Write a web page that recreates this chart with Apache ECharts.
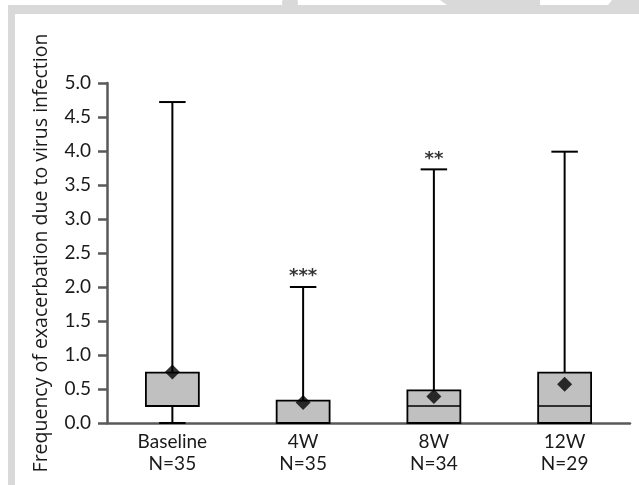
<!DOCTYPE html>
<html>
<head>
<meta charset="utf-8">
<script src="https://cdn.jsdelivr.net/npm/echarts@6/dist/echarts.min.js"></script>
<style>
html,body{margin:0;padding:0;background:#fff;}
#chart{width:639px;height:485px;}
</style>
</head>
<body>
<div id="chart"></div>
<script>
// ---- data ----
const categories = ['Baseline', '4W', '8W', '12W'];
const sampleN = [35, 35, 34, 29];
const whiskerMin = [0, 0, 0, 0];
const q1Values = [0.25, 0, 0, 0];
const medianValues = [0.25, 0, 0.25, 0.25];
const q3Values = [0.74, 0.33, 0.48, 0.74];
const whiskerMax = [4.72, 2.0, 3.73, 3.99];
const meanValues = [0.75, 0.30, 0.39, 0.57];
const significance = ['', '***', '**', ''];
const yTicks = [0, 0.5, 1.0, 1.5, 2.0, 2.5, 3.0, 3.5, 4.0, 4.5, 5.0];
const yAxisTitle = 'Frequency of exacerbation due to virus infection';

const boxData = categories.map((c, i) => [i, whiskerMin[i], q1Values[i], medianValues[i], q3Values[i], whiskerMax[i]]);
const meanData = categories.map((c, i) => [i, meanValues[i]]);
const sigData = categories.map((c, i) => ({ value: [i, whiskerMax[i]], label: { formatter: significance[i] || ' ' } }));

function renderBox(params, api) {
  const x = api.value(0);
  const lo = api.coord([x, api.value(1)]);
  const q1 = api.coord([x, api.value(2)]);
  const med = api.coord([x, api.value(3)]);
  const q3 = api.coord([x, api.value(4)]);
  const hi = api.coord([x, api.value(5)]);
  const band = api.size([1, 0])[0];
  const bw = band * 0.405;
  const cw = bw / 2;
  const cx = q1[0];
  const lineStyle = { stroke: '#000', lineWidth: 2 };
  const children = [];
  children.push({ type: 'line', shape: { x1: cx, y1: q3[1], x2: cx, y2: hi[1] }, style: lineStyle });
  children.push({ type: 'line', shape: { x1: cx - cw / 2, y1: hi[1], x2: cx + cw / 2, y2: hi[1] }, style: lineStyle });
  if (api.value(2) > api.value(1)) {
    children.push({ type: 'line', shape: { x1: cx, y1: q1[1], x2: cx, y2: lo[1] }, style: lineStyle });
    children.push({ type: 'line', shape: { x1: cx - cw / 2, y1: lo[1], x2: cx + cw / 2, y2: lo[1] }, style: lineStyle });
  }
  children.push({ type: 'rect', shape: { x: cx - bw / 2, y: q3[1], width: bw, height: q1[1] - q3[1] },
    style: { fill: '#c0c0c0', stroke: '#000', lineWidth: 1.8 } });
  children.push({ type: 'line', shape: { x1: cx - bw / 2, y1: med[1], x2: cx + bw / 2, y2: med[1] },
    style: { stroke: '#000', lineWidth: 1.6 } });
  return { type: 'group', children: children };
}

const chart = echarts.init(document.getElementById('chart'), null, { renderer: 'canvas' });
const lblFont = 'Lato';
chart.setOption({
  animation: false,
  backgroundColor: '#fff',
  graphic: [
    { type: 'rect', shape: { x: 8, y: 5, width: 631, height: 9 }, style: { fill: '#d9d9d9' }, z: 0 },
    { type: 'rect', shape: { x: 8, y: 5, width: 7, height: 480 }, style: { fill: '#d9d9d9' }, z: 0 },
    { type: 'polygon', shape: { points: [[440, 0], [540, 0], [540, 5], [447, 5]] }, style: { fill: '#d9d9d9' }, z: 0 },
    { type: 'polygon', shape: { points: [[612, 0], [639, 0], [639, 5], [608, 5]] }, style: { fill: '#d9d9d9' }, z: 0 },
    { type: 'circle', shape: { cx: 290, cy: 3, r: 8 }, style: { fill: '#d9d9d9' }, z: 0 }
  ],
  grid: { left: 107, right: 9, top: 83, bottom: 62 },
  xAxis: {
    type: 'category',
    data: categories,
    axisLine: { lineStyle: { color: '#595959', width: 2.5 } },
    axisTick: { show: false },
    axisLabel: {
      interval: 0,
      margin: 8,
      lineHeight: 22,
      fontFamily: lblFont,
      fontSize: 19,
      color: '#1a1a1a',
      formatter: function (v, i) { return v + '\nN=' + sampleN[i]; }
    }
  },
  yAxis: {
    type: 'value',
    min: 0, max: 5, interval: 0.5,
    name: yAxisTitle,
    nameLocation: 'middle',
    nameGap: 56,
    nameRotate: 90,
    nameTextStyle: { fontFamily: 'Open Sans', fontSize: 19.5, color: '#1a1a1a' },
    splitLine: { show: false },
    axisLine: { show: true, lineStyle: { color: '#595959', width: 2.5 } },
    axisTick: { show: true, length: 9, lineStyle: { color: '#595959', width: 2.5 } },
    axisLabel: {
      margin: 16,
      fontFamily: lblFont,
      fontSize: 19,
      color: '#1a1a1a',
      formatter: function (v) { return yTicks.indexOf(v) >= 0 ? v.toFixed(1) : ''; }
    }
  },
  series: [
    { type: 'custom', renderItem: renderBox, data: boxData, encode: { x: 0, y: [1, 2, 3, 4, 5] }, z: 2 },
    { type: 'scatter', data: meanData, symbol: 'diamond', symbolSize: [15, 15],
      itemStyle: { color: '#000' }, z: 5 },
    { type: 'scatter', data: sigData, symbol: 'circle', symbolSize: 1, z: 5,
      itemStyle: { color: 'rgba(0,0,0,0)' },
      label: { show: true, position: 'top', distance: 1, fontFamily: 'DejaVu Sans', fontWeight: 'bold', fontSize: 18, color: '#000' } }
  ]
});
</script>
</body>
</html>
